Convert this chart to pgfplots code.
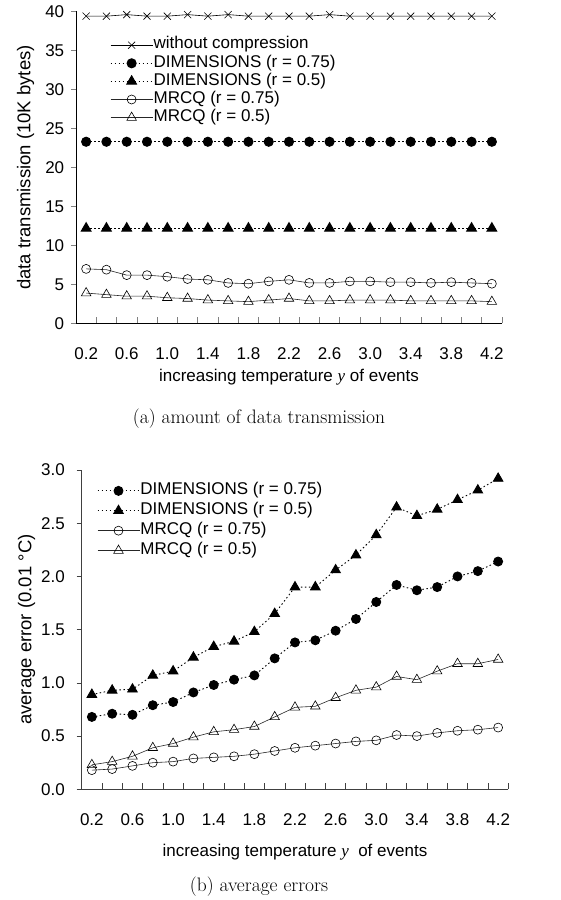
\documentclass[border=0pt]{standalone}
\usepackage{pgfplots}
\pgfplotsset{compat=1.18}
\usepackage{fontspec}
\newfontfamily\arial{Liberation Sans}
\newfontfamily\tnr{Liberation Serif}
\newcommand{\tf}{\arial\fontsize{17}{20}\selectfont}
\begin{document}
\begin{tikzpicture}
\useasboundingbox (0,0) rectangle (560pt,900pt);
\pgfplotsset{
  base/.style={
    scale only axis, clip=false,
    axis lines=left, axis line style={-, line width=0.6pt},
    xmin=0.1, xmax=4.3,
    xtick={0.2,0.6,1.0,1.4,1.8,2.2,2.6,3.0,3.4,3.8,4.2},
    xticklabels={0.2,0.6,1.0,1.4,1.8,2.2,2.6,3.0,3.4,3.8,4.2},
    minor xtick={0.1,0.3,0.5,0.7,0.9,1.1,1.3,1.5,1.7,1.9,2.1,2.3,2.5,2.7,2.9,3.1,3.3,3.5,3.7,3.9,4.1,4.3},
    major x tick style={draw=none},
    minor x tick style={line width=0.6pt},
    major y tick style={line width=0.6pt},
    xtick align=inside, ytick align=outside,
    major tick length=5pt, minor tick length=6pt,
    tick label style={font=\tf},
    xticklabel style={anchor=base, yshift=-36.5pt},
    label style={font=\arial\fontsize{17}{20}\selectfont},
    legend cell align=left,
    legend image code/.code={\draw[mark repeat=2,mark phase=2,##1] plot coordinates {(0pt,0pt) (21pt,0pt) (42pt,0pt)};},
  },
  wc/.style={black, line width=0.6pt, mark=x, mark size=5pt, mark options={solid}},
  d75/.style={black, line width=1.1pt, dash pattern=on 1.5pt off 2.5pt, mark=*, mark size=4.5pt, mark options={solid}},
  d50/.style={black, line width=1.1pt, dash pattern=on 1.5pt off 2.5pt, mark=triangle*, mark size=5.5pt, mark options={solid}},
  m75/.style={black!85, line width=0.6pt, mark=o, mark size=4.5pt, mark options={solid, fill=white, draw=black}},
  m50/.style={black!85, line width=0.6pt, mark=triangle, mark size=5.5pt, mark options={solid, fill=white, draw=black}},
}
% ---------------- panel (a)
\begin{axis}[base,
  at={(76pt,576.5pt)}, anchor=south west,
  width=426pt, height=312pt,
  ymin=0, ymax=40,
  ytick={0,5,10,15,20,25,30,35,40},
  yticklabels={0,5,10,15,20,25,30,35,40},
  yticklabel style={xshift=-3.3pt},
  xlabel={increasing temperature {\tnr\itshape y} of events},
  xlabel style={at={(axis description cs:0.5,-0.187)}, anchor=base},
  ylabel={data transmission (10K bytes)},
  ylabel style={at={(axis description cs:-0.1185,0.5)}, anchor=center, font=\arial\fontsize{18.5}{21}\selectfont},
  legend style={draw=none, fill=none, at={(rel axis cs:0.08,0.92)}, anchor=north west,
    inner sep=0pt, outer sep=0pt, row sep=0.6pt, font=\tf,
    nodes={inner sep=0.5pt, text height=12pt, text depth=4.5pt},
    /tikz/every even column/.append style={column sep=3.5pt}},
]
\addplot[wc] coordinates {(0.2,39.4)(0.4,39.4)(0.6,39.6)(0.8,39.4)(1.0,39.4)(1.2,39.6)(1.4,39.4)(1.6,39.6)(1.8,39.4)(2.0,39.4)(2.2,39.4)(2.4,39.4)(2.6,39.6)(2.8,39.4)(3.0,39.4)(3.2,39.4)(3.4,39.4)(3.6,39.4)(3.8,39.4)(4.0,39.4)(4.2,39.4)};
\addlegendentry{without compression}
\addplot[d75] coordinates {(0.2,23.3)(0.4,23.3)(0.6,23.3)(0.8,23.3)(1.0,23.3)(1.2,23.3)(1.4,23.3)(1.6,23.3)(1.8,23.3)(2.0,23.3)(2.2,23.3)(2.4,23.3)(2.6,23.3)(2.8,23.3)(3.0,23.3)(3.2,23.3)(3.4,23.3)(3.6,23.3)(3.8,23.3)(4.0,23.3)(4.2,23.3)};
\addlegendentry{DIMENSIONS (r = 0.75)}
\addplot[d50] coordinates {(0.2,12.2)(0.4,12.2)(0.6,12.2)(0.8,12.2)(1.0,12.2)(1.2,12.2)(1.4,12.2)(1.6,12.2)(1.8,12.2)(2.0,12.2)(2.2,12.2)(2.4,12.2)(2.6,12.2)(2.8,12.2)(3.0,12.2)(3.2,12.2)(3.4,12.2)(3.6,12.2)(3.8,12.2)(4.0,12.2)(4.2,12.2)};
\addlegendentry{DIMENSIONS (r = 0.5)}
\addplot[m75] coordinates {(0.2,7.0)(0.4,6.9)(0.6,6.2)(0.8,6.2)(1.0,6.0)(1.2,5.7)(1.4,5.6)(1.6,5.2)(1.8,5.1)(2.0,5.4)(2.2,5.6)(2.4,5.2)(2.6,5.2)(2.8,5.4)(3.0,5.4)(3.2,5.3)(3.4,5.3)(3.6,5.2)(3.8,5.3)(4.0,5.2)(4.2,5.1)};
\addlegendentry{MRCQ (r = 0.75)}
\addplot[m50] coordinates {(0.2,3.9)(0.4,3.7)(0.6,3.5)(0.8,3.5)(1.0,3.3)(1.2,3.2)(1.4,3.0)(1.6,2.9)(1.8,2.8)(2.0,3.0)(2.2,3.2)(2.4,2.9)(2.6,2.9)(2.8,3.0)(3.0,3.0)(3.2,3.0)(3.4,2.9)(3.6,2.9)(3.8,2.9)(4.0,2.9)(4.2,2.8)};
\addlegendentry{MRCQ (r = 0.5)}
\end{axis}
% ---------------- panel (b)
\begin{axis}[base,
  at={(81.7pt,110.7pt)}, anchor=south west,
  width=426.6pt, height=319.3pt,
  axis line style={black!75},
  minor x tick style={black!75}, major y tick style={black!75},
  ymin=0, ymax=3,
  ytick={0,0.5,1,1.5,2,2.5,3},
  yticklabels={0.0,0.5,1.0,1.5,2.0,2.5,3.0},
  yticklabel style={xshift=-8.3pt},
  xlabel={increasing temperature {\tnr\itshape y} \ of events},
  xlabel style={at={(axis description cs:0.5,-0.211)}, anchor=base},
  ylabel={average error (0.01 °C)},
  ylabel style={at={(axis description cs:-0.129,0.5)}, anchor=center, font=\arial\fontsize{18.5}{21}\selectfont},
  legend style={draw=none, fill=none, at={(rel axis cs:0.036,0.962)}, anchor=north west,
    inner sep=0pt, outer sep=0pt, row sep=2.4pt, font=\tf,
    nodes={inner sep=0.5pt, text height=12pt, text depth=4.5pt},
    /tikz/every even column/.append style={column sep=3.5pt}},
]
\addplot[d75, line width=0.9pt] coordinates {(0.2,0.68)(0.4,0.71)(0.6,0.70)(0.8,0.79)(1.0,0.82)(1.2,0.91)(1.4,0.98)(1.6,1.03)(1.8,1.07)(2.0,1.23)(2.2,1.38)(2.4,1.40)(2.6,1.49)(2.8,1.60)(3.0,1.76)(3.2,1.92)(3.4,1.87)(3.6,1.90)(3.8,2.00)(4.0,2.05)(4.2,2.14)};
\addlegendentry{DIMENSIONS (r = 0.75)}
\addplot[d50, line width=0.9pt] coordinates {(0.2,0.89)(0.4,0.93)(0.6,0.94)(0.8,1.07)(1.0,1.11)(1.2,1.24)(1.4,1.34)(1.6,1.39)(1.8,1.48)(2.0,1.65)(2.2,1.90)(2.4,1.90)(2.6,2.06)(2.8,2.20)(3.0,2.39)(3.2,2.65)(3.4,2.57)(3.6,2.63)(3.8,2.72)(4.0,2.81)(4.2,2.92)};
\addlegendentry{DIMENSIONS (r = 0.5)}
\addplot[m75] coordinates {(0.2,0.18)(0.4,0.19)(0.6,0.22)(0.8,0.25)(1.0,0.26)(1.2,0.29)(1.4,0.30)(1.6,0.31)(1.8,0.33)(2.0,0.36)(2.2,0.39)(2.4,0.41)(2.6,0.43)(2.8,0.45)(3.0,0.46)(3.2,0.51)(3.4,0.50)(3.6,0.53)(3.8,0.55)(4.0,0.56)(4.2,0.58)};
\addlegendentry{MRCQ (r = 0.75)}
\addplot[m50] coordinates {(0.2,0.23)(0.4,0.26)(0.6,0.31)(0.8,0.39)(1.0,0.43)(1.2,0.49)(1.4,0.54)(1.6,0.56)(1.8,0.59)(2.0,0.68)(2.2,0.77)(2.4,0.78)(2.6,0.86)(2.8,0.93)(3.0,0.96)(3.2,1.06)(3.4,1.03)(3.6,1.11)(3.8,1.18)(4.0,1.18)(4.2,1.22)};
\addlegendentry{MRCQ (r = 0.5)}
\end{axis}
\node[font=\fontsize{19.5}{22}\selectfont, anchor=base] at (259pt,476pt) {(a) amount of data transmission};
\node[font=\fontsize{19.5}{22}\selectfont, anchor=base] at (259pt,8.3pt) {(b) average errors};
\end{tikzpicture}
\end{document}
